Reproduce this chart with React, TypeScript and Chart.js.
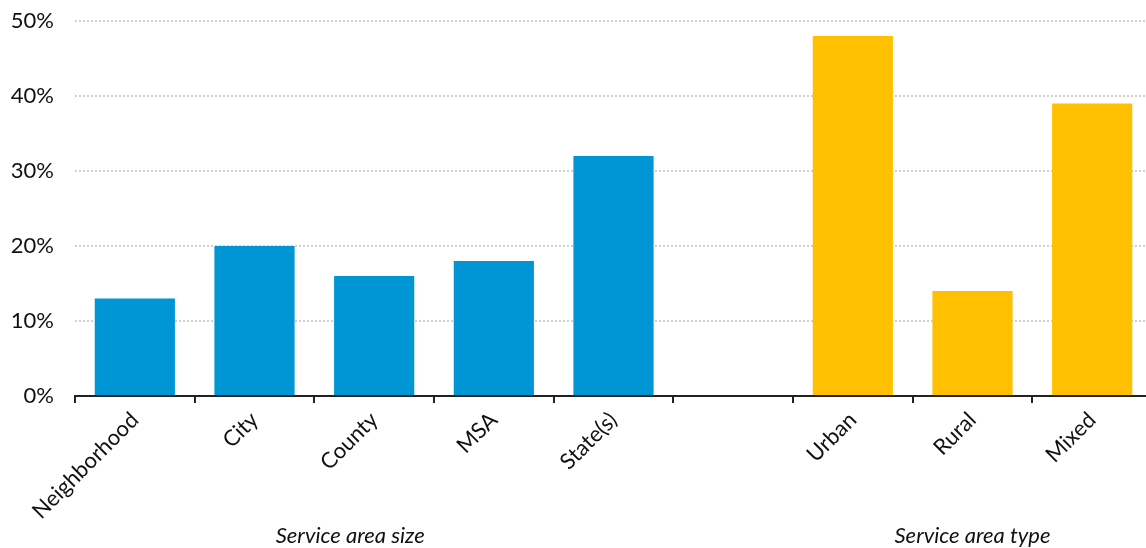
import React, { useEffect, useRef } from "react";
import { Chart, registerables } from "chart.js";

Chart.register(...registerables);

const sizeCategories = ["Neighborhood", "City", "County", "MSA", "State(s)"];
const sizeValues = [13, 20, 16, 18, 32];
const typeCategories = ["Urban", "Rural", "Mixed"];
const typeValues = [48, 14, 39];
const groupLabels = ["Service area size", "Service area type"];
const groupCenters = [1.8, 7.0];
const yTicks = [0, 10, 20, 30, 40, 50];

const BLUE = "#0096d6";
const YELLOW = "#fec000";
const FONT = "Lato, 'Noto Sans', sans-serif";

export default function App() {
  const ref = useRef<HTMLCanvasElement | null>(null);

  useEffect(() => {
    document.body.style.margin = "0";
    const labels = [...sizeCategories, "", ...typeCategories];
    const values: (number | null)[] = [...sizeValues, null, ...typeValues];
    const colors = [
      ...sizeValues.map(() => BLUE),
      "rgba(0,0,0,0)",
      ...typeValues.map(() => YELLOW),
    ];

    const groupPlugin = {
      id: "groupLabels",
      afterDraw(chart: any) {
        const { ctx } = chart;
        const x = chart.scales.x;
        ctx.save();
        ctx.font = `italic 22px ${FONT}`;
        ctx.fillStyle = "#111";
        ctx.textAlign = "center";
        ctx.textBaseline = "alphabetic";
        groupLabels.forEach((t, i) => {
          ctx.fillText(t, x.getPixelForValue(groupCenters[i]), 543);
        });
        ctx.restore();
      },
    };

    const chart = new Chart(ref.current!, {
      type: "bar",
      data: {
        labels,
        datasets: [
          {
            data: values,
            backgroundColor: colors,
            borderWidth: 0,
            barPercentage: 0.67,
            categoryPercentage: 1,
          },
        ],
      },
      options: {
        responsive: false,
        animation: false,
        layout: { padding: { top: 21, left: 0, right: 0, bottom: 0 } },
        plugins: {
          legend: { display: false },
          tooltip: { enabled: false },
        },
        scales: {
          x: {
            offset: true,
            grid: {
              display: true,
              offset: true,
              drawOnChartArea: false,
              drawTicks: true,
              tickLength: 7,
              color: "#222",
              lineWidth: 2,
            },
            border: { display: true, color: "#222", width: 2 },
            ticks: {
              autoSkip: false,
              maxRotation: 45,
              minRotation: 45,
              padding: 4,
              color: "#111",
              font: { family: FONT, size: 22 },
            },
            afterFit(scale: any) {
              scale.height = 548 - 396;
            },
          },
          y: {
            min: 0,
            max: 50,
            afterBuildTicks(scale: any) {
              scale.ticks = yTicks.map((v) => ({ value: v }));
            },
            grid: {
              color: "#cfcfcf",
              lineWidth: 2,
              drawTicks: true,
              tickLength: 21,
              tickColor: "rgba(0,0,0,0)",
            },
            border: { display: false, dash: [2, 2] },
            ticks: {
              padding: 0,
              color: "#111",
              font: { family: FONT, size: 22 },
              callback: (v: any) => `${v}%`,
            },
            afterFit(scale: any) {
              scale.width = 75;
            },
          },
        },
      },
      plugins: [groupPlugin],
    });
    return () => chart.destroy();
  }, []);

  return (
    <div style={{ width: 1146, height: 548, overflow: "hidden" }}>
      <canvas ref={ref} width={1152} height={548} style={{ display: "block" }} />
    </div>
  );
}
